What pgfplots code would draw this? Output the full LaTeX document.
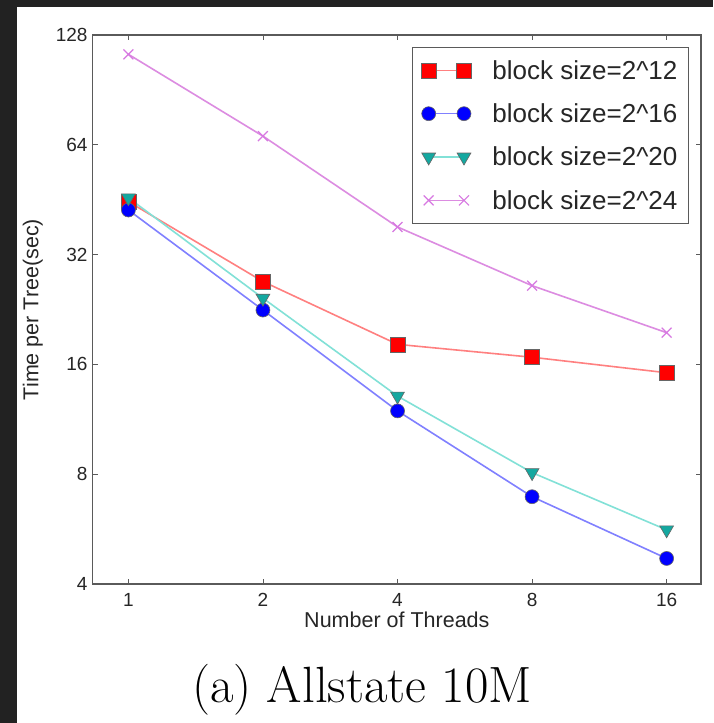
\documentclass[border=0pt]{standalone}
\usepackage{fontspec}
\newfontfamily\helv{Liberation Sans}
\usepackage{pgfplots}
\pgfplotsset{compat=1.18}
\definecolor{bgdark}{RGB}{34,34,34}
\definecolor{axgray}{RGB}{90,90,90}
\definecolor{redm}{RGB}{255,0,0}
\definecolor{redl}{RGB}{255,128,128}
\definecolor{bluem}{RGB}{0,0,255}
\definecolor{bluel}{RGB}{128,128,255}
\definecolor{cyanm}{RGB}{20,168,160}
\definecolor{cyanl}{RGB}{130,225,215}
\definecolor{magm}{RGB}{215,120,225}
\definecolor{magl}{RGB}{220,140,225}
\begin{document}
\begin{tikzpicture}[x=1pt,y=1pt]
\fill[bgdark] (0,0) rectangle (713,723);
\fill[white] (17,0) rectangle (713,716);
\begin{axis}[
  at={(92.7pt,139pt)}, anchor=south west,
  scale only axis, width=608.3pt, height=549pt,
  xmode=log, ymode=log, log basis x=2, log basis y=2,
  xmin=0.832, xmax=19.1, ymin=4, ymax=128,
  xtick={1,2,4,8,16}, xticklabels={1,2,4,8,16},
  ytick={4,8,16,32,64,128}, yticklabels={4,8,16,32,64,128},
  minor tick length=0pt,
  major tick length=5pt,
  tick align=inside,
  axis line style={axgray, line width=1.2pt},
  every tick/.style={axgray, line width=0.8pt},
  /pgf/number format/assume math mode=true,
  tick label style={font=\helv\fontsize{19}{19}\selectfont, text=black!85, inner sep=0pt},
  xticklabel style={anchor=north, yshift=-9pt},
  yticklabel style={anchor=east, xshift=-5pt},
  xlabel={Number of Threads},
  ylabel={Time per Tree(sec)},
  label style={font=\helv\fontsize{21.5}{21.5}\selectfont, text=black!85, inner sep=0pt},
  xlabel style={at={(axis description cs:0.5,0)}, anchor=north, yshift=-28pt},
  ylabel style={at={(axis description cs:-0.0817,0.5)}, anchor=south},
  legend style={at={(axis description cs:0.5244,0.9787)}, anchor=north west,
    draw=axgray, line width=1pt, fill=white,
    font=\helv\fontsize{26}{26}\selectfont, text=black!85,
    inner xsep=9pt, inner ysep=11pt, row sep=19pt, column sep=19pt,
    nodes={inner sep=2pt}},
  legend cell align=left,
  legend image code/.code={\draw[#1] plot coordinates {(0pt,0pt) (35.3pt,0pt)};},
  every axis plot/.append style={line width=1.6pt},
]
\addplot[redl, mark=square*, mark size=7.5pt, mark options={fill=redm, draw=black!60, line width=0.6pt}]
  coordinates {(1,44.7) (2,27.0) (4,18.16) (8,16.74) (16,15.18)};
\addlegendentry{block size=2\textasciicircum 12}
\addplot[bluel, mark=*, mark size=7pt, mark options={fill=bluem, draw=black!60, line width=0.6pt}]
  coordinates {(1,42.4) (2,22.55) (4,11.93) (8,6.94) (16,4.70)};
\addlegendentry{block size=2\textasciicircum 16}
\addplot[cyanl, mark=triangle*, mark size=8pt, mark options={rotate=180, fill=cyanm, draw=black!60, line width=0.6pt}]
  coordinates {(1,45.8) (2,24.3) (4,13.1) (8,8.08) (16,5.63)};
\addlegendentry{block size=2\textasciicircum 20}
\addplot[magl, mark=x, mark size=7pt, mark options={draw=magm, line width=1.2pt}]
  coordinates {(1,113.3) (2,67.6) (4,38.1) (8,26.3) (16,19.55)};
\addlegendentry{block size=2\textasciicircum 24}
\end{axis}
\node[anchor=base, inner sep=0pt, font=\fontsize{51}{51}\selectfont] at (362,20) {(a) Allstate 10M};
\pgfresetboundingbox
\useasboundingbox (0,0) rectangle (713,723);
\end{tikzpicture}
\end{document}
